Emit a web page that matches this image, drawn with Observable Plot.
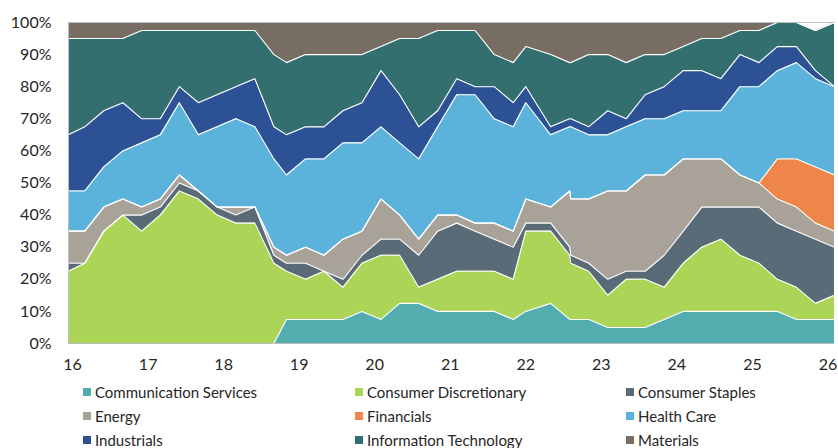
<!DOCTYPE html>
<html>
<head>
<meta charset="utf-8">
<script src="https://cdn.jsdelivr.net/npm/d3@7"></script>
<script src="https://cdn.jsdelivr.net/npm/@observablehq/plot@0.6"></script>
<style>
  html, body { margin: 0; padding: 0; background: #fff; }
  #chart { width: 838px; }
  #legend {
    display: grid;
    grid-template-columns: 272px 271px 200px;
    padding-left: 83px;
    margin-top: 2px;
    font-family: Lato, "Open Sans", sans-serif;
    font-size: 15px;
    color: #262626;
  }
  .item { display: flex; align-items: center; height: 24px; white-space: nowrap; }
  .sw { width: 8px; height: 8px; margin-right: 4px; flex: none; }
</style>
</head>
<body>
<div id="chart"></div>
<div id="legend"></div>
<script>
const dates = ["2015-12-13","2016-03-01","2016-06-01","2016-09-01","2016-12-01","2017-03-01","2017-06-01","2017-09-01","2017-12-01","2018-03-01","2018-06-01","2018-09-01","2018-11-01","2019-02-01","2019-05-01","2019-08-01","2019-11-01","2020-02-01","2020-05-01","2020-08-01","2020-11-01","2021-02-01","2021-05-01","2021-08-01","2021-11-01","2022-01-01","2022-05-01","2022-08-01","2022-08-06","2022-11-01","2023-02-01","2023-05-01","2023-08-01","2023-11-01","2024-02-01","2024-05-01","2024-08-01","2024-11-01","2025-02-01","2025-05-01","2025-08-01","2025-11-01","2026-02-01"];

const sectors = ["Communication Services","Consumer Discretionary","Consumer Staples","Energy","Financials","Health Care","Industrials","Information Technology","Materials"];
const colors = ["#53adae","#acd457","#5a6b78","#a9a299","#ee8549","#5bb3dc","#2c5194","#336f6f","#786d62"];

// Weights in % per observation
const communicationServices = [0,0,0,0,0,0,0,0,0,0,0,0,7.5,7.5,7.5,7.5,10,7.5,12.5,12.5,10,10,10,10,7.5,10,12.5,7.5,7.5,7.5,5,5,5,7.5,10,10,10,10,10,10,7.5,7.5,7.5];
const consumerDiscretionary = [22.5,25,35,40,35,40,47.5,45,40,37.5,37.5,25,15,12.5,15,10,15,20,15,5,10,12.5,12.5,12.5,12.5,25,22.5,20,17.5,15,10,15,15,10,15,20,22.5,17.5,15,10,10,5,7.5];
const consumerStaples = [2.5,0,0,0,5,2.5,2.5,2.5,2.5,2.5,5,2.5,2.5,5,0,2.5,2.5,5,5,10,15,15,12.5,10,10,2.5,2.5,2.5,2.5,2.5,5,2.5,2.5,10,10,12.5,10,15,17.5,17.5,17.5,20,15];
const energy = [10,10,7.5,5,2.5,2.5,2.5,0,0,2.5,0,2.5,2.5,5,5,12.5,7.5,12.5,7.5,5,5,2.5,2.5,5,5,7.5,5,17.5,17.5,20,27.5,25,30,25,22.5,15,15,10,7.5,7.5,7.5,5,5];
const financials = [0,0,0,0,0,0,0,0,0,0,0,0,0,0,0,0,0,0,0,0,0,0,0,0,0,0,0,0,0,0,0,0,0,0,0,0,0,0,0,12.5,15,17.5,17.5];
const healthCare = [12.5,12.5,12.5,15,20,20,22.5,17.5,25,27.5,25,27.5,25,27.5,30,30,27.5,22.5,22.5,25,27.5,37.5,40,32.5,32.5,30,22.5,20,22.5,20,17.5,20,17.5,17.5,15,15,15,27.5,30,27.5,30,27.5,27.5];
const industrials = [17.5,20,17.5,15,7.5,5,5,10,10,10,15,10,12.5,10,10,10,12.5,17.5,15,10,5,5,2.5,10,7.5,5,2.5,2.5,2.5,2.5,7.5,2.5,7.5,10,12.5,12.5,10,10,7.5,7.5,5,2.5,0];
const informationTechnology = [30,27.5,22.5,20,27.5,27.5,17.5,22.5,20,17.5,15,22.5,22.5,22.5,22.5,17.5,15,7.5,17.5,27.5,25,15,17.5,10,12.5,12.5,22.5,17.5,17.5,22.5,17.5,17.5,12.5,10,7.5,10,12.5,7.5,10,7.5,7.5,12.5,20];
const materials = [5,5,5,5,2.5,2.5,2.5,2.5,2.5,2.5,2.5,10,12.5,10,10,10,10,7.5,5,5,2.5,2.5,2.5,10,12.5,7.5,10,12.5,12.5,10,10,12.5,10,10,7.5,5,5,2.5,2.5,0,0,0,0];

const yTicks = [0,10,20,30,40,50,60,70,80,90,100];
const years = [2016,2017,2018,2019,2020,2021,2022,2023,2024,2025,2026];

const series = [communicationServices, consumerDiscretionary, consumerStaples, energy, financials, healthCare, industrials, informationTechnology, materials];
const parsed = dates.map(d => new Date(d + "T00:00:00Z"));
const rows = [];
series.forEach((vals, j) => {
  parsed.forEach((d, i) => rows.push({date: d, sector: sectors[j], value: vals[i]}));
});

const chart = Plot.plot({
  width: 838,
  height: 378,
  marginLeft: 68,
  marginRight: 4,
  marginTop: 22,
  marginBottom: 35,
  style: {fontFamily: "Lato, 'Open Sans', sans-serif", fontSize: "16px", color: "#262626", background: "#fff"},
  x: {
    type: "utc",
    domain: [parsed[0], parsed[parsed.length - 1]],
    ticks: years.map(y => new Date(Date.UTC(y, 0, 1))),
    tickFormat: d3.utcFormat("%y"),
    tickSize: 0,
    tickPadding: 15,
    label: null
  },
  y: {
    domain: [0, 100],
    ticks: yTicks,
    tickFormat: d => d + "%",
    tickSize: 0,
    tickPadding: 17,
    label: null
  },
  color: {domain: sectors, range: colors},
  marks: [
    Plot.areaY(rows, {x: "date", y: "value", z: "sector", fill: "sector"}),
    Plot.lineY(rows, Plot.stackY2({x: "date", y: "value", z: "sector", stroke: "#fff", strokeWidth: 1.1})),
    Plot.ruleY([0, 100], {stroke: "#bfbfbf", strokeWidth: 1}),
    Plot.ruleX([parsed[0]], {stroke: "#bfbfbf", strokeWidth: 1})
  ]
});
document.getElementById("chart").appendChild(chart);

const legend = document.getElementById("legend");
sectors.forEach((s, i) => {
  const item = document.createElement("div");
  item.className = "item";
  const sw = document.createElement("span");
  sw.className = "sw";
  sw.style.background = colors[i];
  const t = document.createElement("span");
  t.textContent = s;
  item.appendChild(sw);
  item.appendChild(t);
  legend.appendChild(item);
});
</script>
</body>
</html>
